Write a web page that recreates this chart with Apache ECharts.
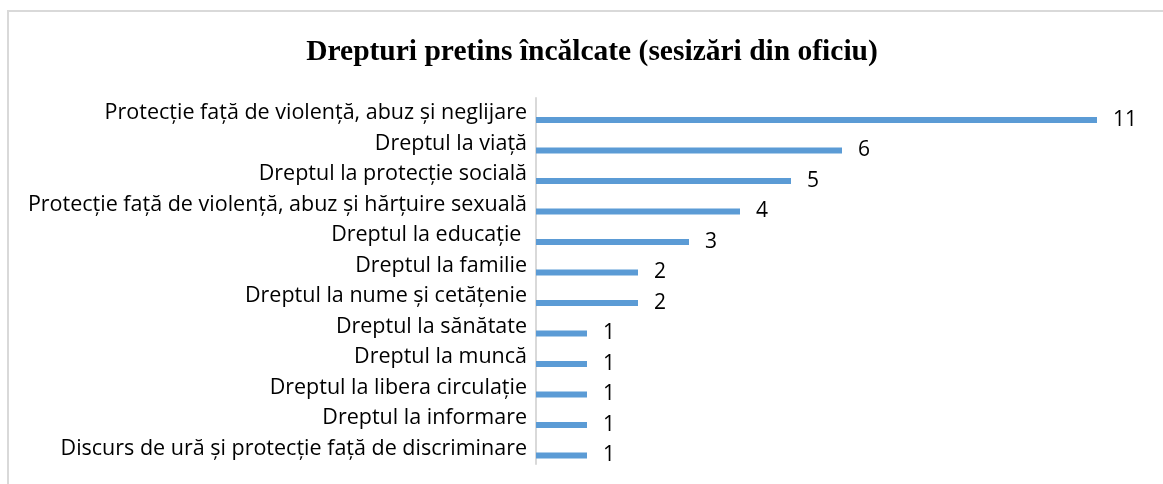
<!DOCTYPE html>
<html>
<head>
<meta charset="utf-8">
<script src="https://cdn.jsdelivr.net/npm/echarts@6/dist/echarts.min.js"></script>
<style>
  html, body { margin: 0; padding: 0; background: #fff; }
  #chart { width: 1163px; height: 484px; }
</style>
</head>
<body>
<div id="chart"></div>
<script>
const categories = [
  'Protecție față de violență, abuz și neglijare',
  'Dreptul la viață',
  'Dreptul la protecție socială',
  'Protecție față de violență, abuz și hărțuire sexuală',
  'Dreptul la educație ',
  'Dreptul la familie',
  'Dreptul la nume și cetățenie',
  'Dreptul la sănătate',
  'Dreptul la muncă',
  'Dreptul la libera circulație',
  'Dreptul la informare',
  'Discurs de ură și protecție față de discriminare'
]
const values = [11, 6, 5, 4, 3, 2, 2, 1, 1, 1, 1, 1]
const placeholder = categories.map(() => '-')

const chart = echarts.init(document.getElementById('chart'))

const option = {
  animation: false,
  title: {
    text: 'Drepturi pretins încălcate (sesizări din oficiu)',
    left: 587,
    textAlign: 'center',
    top: 32,
    textStyle: {
      fontFamily: 'Liberation Serif',
      fontWeight: 'bold',
      fontSize: 29.5,
      color: '#000'
    }
  },
  graphic: [{
    type: 'rect',
    shape: { x: 8, y: 11, width: 1170, height: 490 },
    style: { fill: 'none', stroke: '#d9d9d9', lineWidth: 2 },
    silent: true
  }],
  grid: {
    left: 536,
    right: 66,
    top: 98,
    bottom: 20
  },
  xAxis: {
    type: 'value',
    min: 0,
    max: 11,
    show: false
  },
  yAxis: {
    type: 'category',
    data: categories,
    inverse: true,
    axisLine: { lineStyle: { color: '#d9d9d9', width: 2 } },
    axisTick: { length: 8, lineStyle: { color: '#d9d9d9', width: 2 } },
    axisLabel: {
      margin: 9,
      fontFamily: 'Open Sans',
      fontSize: 21.5,
      color: '#000'
    }
  },
  series: [
    {
      name: 'gol',
      type: 'bar',
      data: placeholder,
      barWidth: 6,
      barGap: '123%'
    },
    {
      name: 'Sesizări',
      type: 'bar',
      data: values,
      barWidth: 6,
      itemStyle: { color: '#5b9bd5' },
      label: {
        show: true,
        position: 'right',
        distance: 16,
        fontFamily: 'Open Sans',
        fontSize: 21,
        color: '#000'
      }
    }
  ]
}

chart.setOption(option)
</script>
</body>
</html>
